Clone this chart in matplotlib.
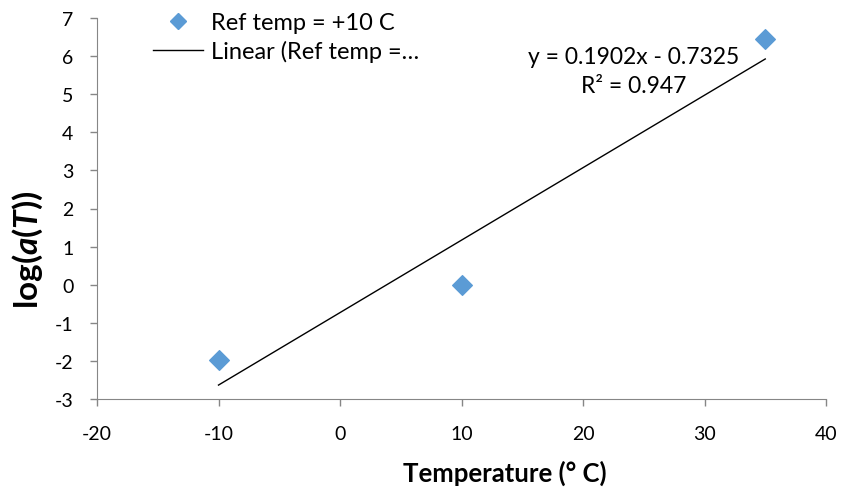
import numpy as np
import matplotlib
matplotlib.use("Agg")
import matplotlib.pyplot as plt
from matplotlib.lines import Line2D

# data
temps = [-10, 10, 35]
log_aT = [-1.9848, 0.0, 6.4442]
series_name = "Ref temp = +10 C"
trend_name = "Linear (Ref temp =\u2026"
x_ticks = [-20, -10, 0, 10, 20, 30, 40]
y_ticks = [-3, -2, -1, 0, 1, 2, 3, 4, 5, 6, 7]

plt.rcParams['font.family'] = ['Lato', 'DejaVu Sans']
plt.rcParams['axes.unicode_minus'] = False
plt.rcParams['mathtext.fontset'] = 'custom'
plt.rcParams['mathtext.rm'] = 'Lato'
plt.rcParams['mathtext.bf'] = 'Lato:bold'
plt.rcParams['mathtext.it'] = 'Lato:italic'
plt.rcParams['mathtext.bfit'] = 'Lato:bold:italic'

W, H = 843, 489
fig = plt.figure(figsize=(W / 100, H / 100), dpi=100)
ax = fig.add_axes([97 / W, 1 - 400 / H, 729 / W, 381 / H])

blue = '#5b9bd5'
gray = '#868686'
ax.scatter(temps, log_aT, marker='D', s=100, color=blue, zorder=3)

# linear trendline, like the spreadsheet does it
slope, icpt = np.polyfit(temps, log_aT, 1)
y = np.array(log_aT)
pred = np.polyval([slope, icpt], temps)
r2 = 1 - np.sum((y - pred) ** 2) / np.sum((y - y.mean()) ** 2)
xs = np.array([min(temps), max(temps)])
ax.plot(xs, slope * xs + icpt, color='black', lw=1.0, zorder=2)

fig.text(634 / W, 1 - 72 / H, f"y = {slope:.4f}x - {abs(icpt):.4f}\nR\u00b2 = {r2:.3f}",
         ha='center', va='center', multialignment='center', fontsize=16.5, linespacing=1.45)

ax.set_xlim(-20, 40)
ax.set_ylim(-3, 7)
ax.set_xticks(x_ticks)
ax.set_yticks(y_ticks)
ax.tick_params(axis='both', direction='out', length=5, color=gray, labelsize=14, width=1)
ax.tick_params(axis='x', pad=14)
ax.tick_params(axis='y', pad=12)
for s in ['top', 'right']:
    ax.spines[s].set_visible(False)
for s in ['left', 'bottom']:
    ax.spines[s].set_color(gray)

ax.set_xlabel("Temperature (\u00b0 C)", fontsize=18.5, fontweight='bold')
ax.xaxis.set_label_coords(0.559, -0.16)
ax.set_ylabel(r"$\mathbf{log(}\mathbfit{a}\mathbf{(}\mathbfit{T}\mathbf{))}$", fontsize=24)
ax.yaxis.set_label_coords(-0.072, 0.395)

handles = [Line2D([], [], marker='D', ls='none', color=blue, markersize=8.2),
           Line2D([], [], color='black', lw=1.0)]
ax.legend(handles, [series_name, trend_name], loc='upper left',
          bbox_to_anchor=(153 / W, 1 - 13 / H), bbox_transform=fig.transFigure,
          frameon=False, fontsize=17, handlelength=2.1, handletextpad=0.35,
          labelspacing=0.3, borderpad=0, borderaxespad=0)

fig.savefig("out.png", dpi=100)
